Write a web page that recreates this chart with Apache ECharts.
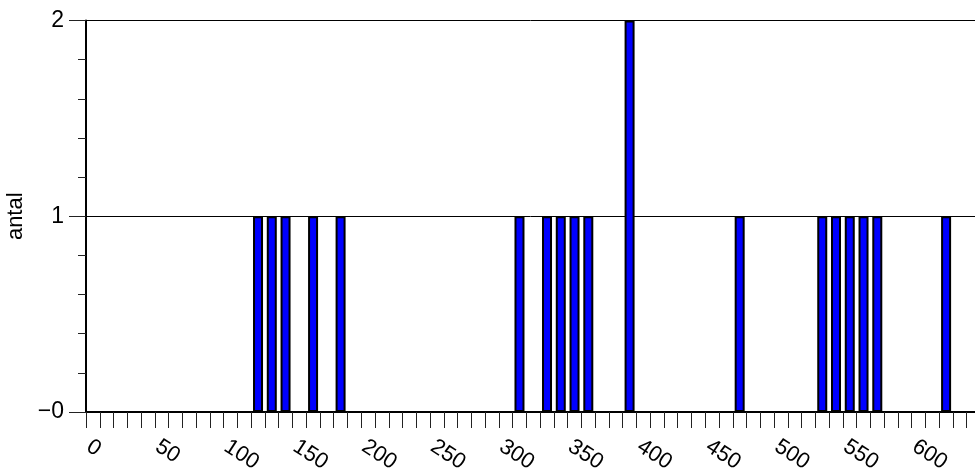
<!DOCTYPE html>
<html>
<head>
<meta charset="utf-8">
<script src="https://cdn.jsdelivr.net/npm/echarts@6/dist/echarts.min.js"></script>
<style>
html,body{margin:0;padding:0;background:#fff;}
#c{width:975px;height:476px;}
</style>
</head>
<body>
<div id="c"></div>
<script>
// bin start values (width 10) and counts
var binStarts = [120, 130, 140, 160, 180, 310, 330, 340, 350, 360, 390, 470, 530, 540, 550, 560, 570, 620];
var counts    = [1,   1,   1,   1,   1,   1,   1,   1,   1,   1,   2,   1,   1,   1,   1,   1,   1,   1];
var binWidth = 10;
var xLabelStep = 50;
var yTicks = [0, 1, 2];
var yLabels = ['\u22120', '1', '2'];
var yName = 'antal';

var barData = binStarts.map(function (s, i) { return [s + binWidth / 2, counts[i]]; });

var FONT = 'Liberation Sans, Arial, sans-serif';
var chart = echarts.init(document.getElementById('c'), null, {renderer: 'canvas'});
chart.setOption({
  animation: false,
  backgroundColor: '#fff',
  grid: {left: 86, right: 0, top: 20.5, bottom: 64, containLabel: false, outerBoundsMode: 'none'},
  xAxis: [{
    type: 'value', min: 0, max: 646, interval: binWidth,
    axisLine: {show: true, onZero: false, lineStyle: {color: '#000', width: 2}},
    axisTick: {show: true, length: 16, lineStyle: {color: '#222', width: 1}},
    axisLabel: {
      show: true, rotate: -33, margin: 31, color: '#000', fontSize: 22, fontFamily: FONT,
      padding: [0, 0, 0, 3],
      showMaxLabel: false, hideOverlap: false,
      formatter: function (v) { return (v % xLabelStep === 0) ? String(v) : ''; }
    },
    splitLine: {show: false}
  }, {
    type: 'value', position: 'top', min: 0, max: 646,
    axisLine: {show: true, lineStyle: {color: '#000', width: 2}},
    axisTick: {show: false}, axisLabel: {show: false}, splitLine: {show: false}
  }],
  yAxis: {
    type: 'value', min: yTicks[0], max: yTicks[yTicks.length - 1], interval: 1,
    name: yName, nameLocation: 'middle', nameGap: 51, nameRotate: 90,
    nameTextStyle: {color: '#000', fontSize: 22, fontFamily: FONT},
    axisLine: {show: true, lineStyle: {color: '#000', width: 2}},
    axisTick: {show: true, length: 17, lineStyle: {color: '#222', width: 1}},
    minorTick: {show: true, splitNumber: 5, length: 8, lineStyle: {color: '#222', width: 1}},
    axisLabel: {
      margin: 22, color: '#000', fontSize: 23, fontFamily: FONT,
      formatter: function (v) { var k = yTicks.indexOf(v); return k >= 0 ? yLabels[k] : ''; }
    },
    splitLine: {show: true, lineStyle: {color: '#000', width: 1}}
  },
  series: [{
    type: 'bar', xAxisIndex: 0, data: barData, barWidth: 10,
    itemStyle: {color: '#0000ff', borderColor: '#000', borderWidth: 2}
  }]
});
</script>
</body>
</html>
